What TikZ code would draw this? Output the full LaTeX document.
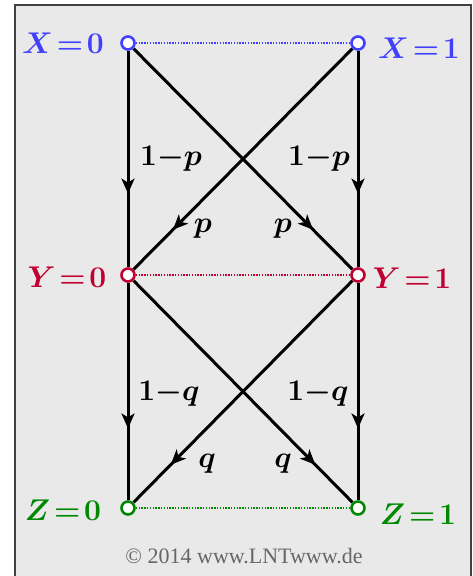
\RequirePackage{fix-cm}
\documentclass[tikz,border=0pt]{standalone}
\usepackage{fontspec}
\usepackage{amsmath}
\usetikzlibrary{arrows.meta, decorations.markings, backgrounds}
\newfontfamily\lntfont{Liberation Serif}
\definecolor{blauX}{RGB}{64,64,255}
\definecolor{rotY}{RGB}{192,0,48}
\definecolor{gruenZ}{RGB}{0,136,0}
\definecolor{grauBG}{RGB}{233,233,233}
\tikzset{
  bc/pt/.style={circle, draw=#1, fill=white, minimum size=13pt,
    inner sep=0pt, line width=2.6pt},
  bc/name/.style={text=#1, font=\fontsize{30}{36}\selectfont\boldmath,
    inner sep=0pt},
  bc/lbl/.style={font=\fontsize{30}{36}\selectfont\boldmath,
    inner sep=0pt, anchor=base},
  bc/arr/.style={line width=3pt, postaction={decorate},
    decoration={markings, mark=at position #1 with
      {\arrow{Stealth[length=15pt,width=13pt,inset=4pt]}}}},
  bc/link/.style={draw=#1, line width=1.3pt, dash pattern=on 1.3pt off 1.5pt}
}

\begin{document}
\begin{tikzpicture}[x=1pt, y=-1pt]
  \useasboundingbox (0,0) rectangle (473,576);

  % Punkte der drei Stufen
  \node[bc/pt=blauX]  (x0) at (128,43)  {};
  \node[bc/pt=blauX]  (x1) at (358,43)  {};
  \node[bc/pt=rotY]   (y0) at (128,275) {};
  \node[bc/pt=rotY]   (y1) at (358,275) {};
  \node[bc/pt=gruenZ] (z0) at (128,508) {};
  \node[bc/pt=gruenZ] (z1) at (358,508) {};

  \node[bc/name=blauX]  (lx0) at (63,43)   {$X\!=\!0$};
  \node[bc/name=blauX]  (lx1) at (419,48)  {$X\!=\!1$};
  \node[bc/name=rotY]   (ly0) at (67,277)  {$Y\!=\!0$};
  \node[bc/name=rotY]   (ly1) at (412,278) {$Y\!=\!1$};
  \node[bc/name=gruenZ] (lz0) at (63,510)  {$Z\!=\!0$};
  \node[bc/name=gruenZ] (lz1) at (418,514) {$Z\!=\!1$};

  % Uebergangswahrscheinlichkeiten
  \node[bc/lbl] (p00) at (171,165) {$1{-}p$};
  \node[bc/lbl] (p11) at (319,165) {$1{-}p$};
  \node[bc/lbl] (p10) at (203,232) {$p$};
  \node[bc/lbl] (p01) at (283,232) {$p$};
  \node[bc/lbl] (q00) at (169,400) {$1{-}q$};
  \node[bc/lbl] (q11) at (318,400) {$1{-}q$};
  \node[bc/lbl] (q10) at (207,467) {$q$};
  \node[bc/lbl] (q01) at (283,467) {$q$};

  \node[text=black!60, font=\lntfont\fontsize{22}{26}\selectfont] (copy)
    at (244,556) {\textcopyright\ 2014 www.LNTwww.de};

  \begin{scope}[on background layer]
    \draw[draw=black!75, line width=2pt, fill=grauBG] (15,5) rectangle (471,590);
    \draw[bc/link=blauX]  (x0) -- (x1);
    \draw[bc/link=rotY]   (y0) -- (y1);
    \draw[bc/link=gruenZ] (z0) -- (z1);
    \draw[bc/arr=0.66] (x0) -- (y0);
    \draw[bc/arr=0.82] (x0) -- (y1);
    \draw[bc/arr=0.82] (x1) -- (y0);
    \draw[bc/arr=0.66] (x1) -- (y1);
    \draw[bc/arr=0.67] (y0) -- (z0);
    \draw[bc/arr=0.83] (y0) -- (z1);
    \draw[bc/arr=0.83] (y1) -- (z0);
    \draw[bc/arr=0.67] (y1) -- (z1);
  \end{scope}
\end{tikzpicture}
\end{document}
